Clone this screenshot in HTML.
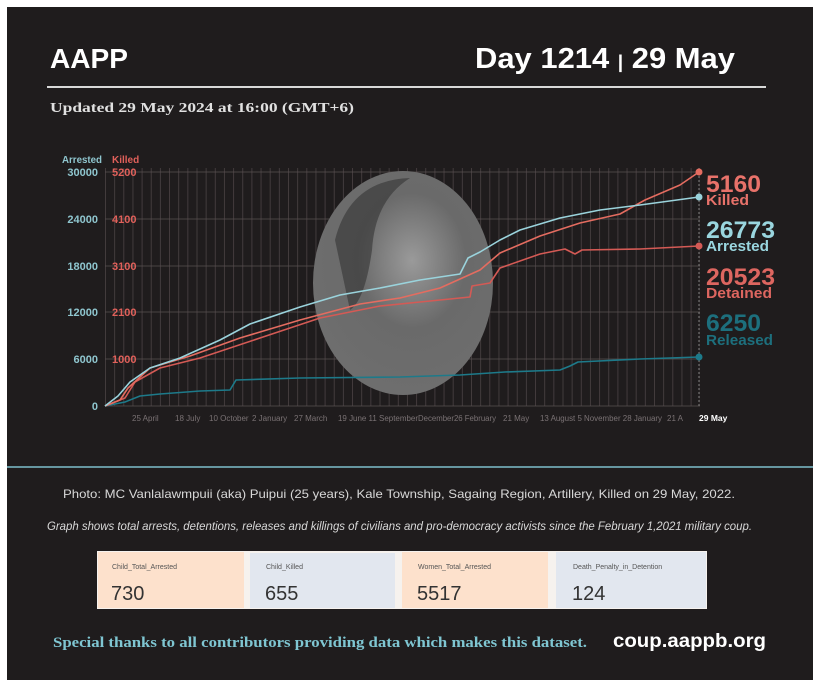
<!DOCTYPE html>
<html><head><meta charset="utf-8"><style>
html,body{margin:0;padding:0;background:#fff;}
body{width:820px;height:687px;position:relative;overflow:hidden;font-family:"Liberation Sans",sans-serif;}
.panel{position:absolute;left:7px;top:7px;width:806px;height:673px;background:#1f1c1d;}
</style></head><body>
<div class="panel"></div>
<svg width="820" height="687" style="position:absolute;left:0;top:0">
<defs>
<pattern id="vg" x="105" y="0" width="9.15" height="10" patternUnits="userSpaceOnUse">
<line x1="0.5" y1="0" x2="0.5" y2="10" stroke="#4a4244" stroke-width="0.8"/>
</pattern>
<radialGradient id="ph" cx="0.55" cy="0.4" r="0.6">
<stop offset="0" stop-color="#9a9a9a"/><stop offset="0.5" stop-color="#6a6a6a"/><stop offset="1" stop-color="#6e6e6e"/>
</radialGradient>
</defs>
<text x="50" y="68" fill="#fff" font-size="28" font-weight="bold" textLength="78" lengthAdjust="spacingAndGlyphs">AAPP</text>
<text x="475" y="68" fill="#fff" font-size="29" font-weight="bold" textLength="260" lengthAdjust="spacingAndGlyphs">Day 1214 <tspan font-size="18">|</tspan> 29 May</text>
<line x1="47" y1="87" x2="766" y2="87" stroke="#d8d8d8" stroke-width="2"/>
<text x="50" y="112" fill="#e0e0e0" font-size="13.5" font-weight="bold" font-family="Liberation Serif, serif" textLength="304" lengthAdjust="spacingAndGlyphs">Updated 29 May 2024 at 16:00 (GMT+6)</text>

<rect x="105" y="168" width="595" height="238" fill="url(#vg)"/>
<g stroke="#5a5052" stroke-width="0.8">
<line x1="105" y1="172" x2="700" y2="172"/><line x1="105" y1="219" x2="700" y2="219"/>
<line x1="105" y1="266" x2="700" y2="266"/><line x1="105" y1="312" x2="700" y2="312"/>
<line x1="105" y1="359" x2="700" y2="359"/><line x1="105" y1="406" x2="700" y2="406"/>
</g>
<line x1="699" y1="168" x2="699" y2="406" stroke="#999" stroke-dasharray="2,2" stroke-width="0.8"/>
<ellipse cx="403" cy="283" rx="90" ry="112" fill="url(#ph)"/>
<path d="M335 240 Q350 180 410 178 Q375 200 372 250 Q365 300 350 310 Z" fill="#333" opacity="0.6"/>

<g font-size="11" font-weight="bold">
<text x="62" y="163" fill="#8fc6cf" font-size="10" textLength="40" lengthAdjust="spacingAndGlyphs">Arrested</text><text x="112" y="163" fill="#e0605a" font-size="10">Killed</text>
<g fill="#8fc6cf" text-anchor="end"><text x="98" y="176">30000</text><text x="98" y="223">24000</text><text x="98" y="270">18000</text><text x="98" y="316">12000</text><text x="98" y="363">6000</text><text x="98" y="410">0</text></g>
<g fill="#e0605a"><text x="112" y="176">5200</text><text x="112" y="223">4100</text><text x="112" y="270">3100</text><text x="112" y="316">2100</text><text x="112" y="363">1000</text></g>
</g>
<g font-size="8" fill="#7a7274">
<text x="132" y="421">25 April</text><text x="175" y="421">18 July</text><text x="209" y="421">10 October</text><text x="252" y="421">2 January</text><text x="294" y="421">27 March</text><text x="338" y="421" textLength="80" lengthAdjust="spacingAndGlyphs">19 June 11 September</text><text x="418" y="421" textLength="78" lengthAdjust="spacingAndGlyphs">December26 February</text><text x="503" y="421">21 May</text><text x="540" y="421" textLength="122" lengthAdjust="spacingAndGlyphs">13 August 5 November 28 January</text><text x="667" y="421">21 A</text>
</g>
<text x="699" y="421" fill="#fff" font-size="8.5" font-weight="bold">29 May</text>

<g fill="none" stroke-width="1.6" stroke-linejoin="round">
<polyline stroke="#1d7a8a" points="105,406 125,402 140,396 160,394 200,391 230,390 236,380 300,378 400,377 460,375 505,372 560,370 570,366 578,362 640,359 699,357"/>
<polyline stroke="#d45a55" points="105,406 125,398 135,382 160,368 200,358 260,338 320,318 380,306 420,302 460,298 470,297 472,286 490,283 500,268 540,254 565,249 575,254 582,250 640,249 699,246"/>
<polyline stroke="#e46c60" points="105,406 120,400 128,388 150,368 190,356 240,338 300,320 360,304 400,298 440,288 480,270 500,253 540,236 580,223 620,214 645,200 680,185 699,172"/>
<polyline stroke="#9ad3dc" points="105,406 118,396 130,382 150,368 180,358 220,340 250,324 300,307 340,295 380,288 420,280 460,274 468,258 480,252 500,240 520,230 560,218 600,210 640,205 699,197"/>
</g>
<circle cx="699" cy="172" r="3.5" fill="#e46c60"/><circle cx="699" cy="197" r="3.5" fill="#9ad3dc"/>
<circle cx="699" cy="246" r="3.5" fill="#d45a55"/><circle cx="699" cy="357" r="3.5" fill="#1d7a8a"/>

<g font-weight="bold">
<text x="706" y="192" fill="#e8726a" font-size="24" textLength="55" lengthAdjust="spacingAndGlyphs">5160</text><text x="706" y="205" fill="#e8726a" font-size="15" textLength="43" lengthAdjust="spacingAndGlyphs">Killed</text>
<text x="706" y="238" fill="#9ad6df" font-size="24" textLength="69" lengthAdjust="spacingAndGlyphs">26773</text><text x="706" y="251" fill="#9ad6df" font-size="15" textLength="63" lengthAdjust="spacingAndGlyphs">Arrested</text>
<text x="706" y="285" fill="#dd6660" font-size="24" textLength="69" lengthAdjust="spacingAndGlyphs">20523</text><text x="706" y="298" fill="#dd6660" font-size="15" textLength="66" lengthAdjust="spacingAndGlyphs">Detained</text>
<text x="706" y="331" fill="#1d6f7d" font-size="24" textLength="55" lengthAdjust="spacingAndGlyphs">6250</text><text x="706" y="345" fill="#1d6f7d" font-size="15" textLength="67" lengthAdjust="spacingAndGlyphs">Released</text>
</g>

<line x1="7" y1="467" x2="813" y2="467" stroke="#7fbfcc" stroke-width="1.5"/>
<text x="63" y="498" fill="#d8d8d8" font-size="12" textLength="672" lengthAdjust="spacingAndGlyphs">Photo: MC Vanlalawmpuii (aka) Puipui (25 years), Kale Township, Sagaing Region, Artillery, Killed on 29 May, 2022.</text>
<text x="47" y="530" fill="#d8d8d8" font-size="12" font-style="italic" textLength="705" lengthAdjust="spacingAndGlyphs">Graph shows total arrests, detentions, releases and killings of civilians and pro-democracy activists since the February 1,2021 military coup.</text>

<rect x="97" y="551" width="610" height="58" fill="#f6f2ee"/>
<rect x="98" y="552" width="146" height="56" fill="#fde1cc"/>
<rect x="250" y="553" width="145" height="55" fill="#e2e7ef"/>
<rect x="402" y="552" width="146" height="56" fill="#fde1cc"/>
<rect x="556" y="552" width="150" height="56" fill="#e2e7ef"/>
<g fill="#555" font-size="7"><text x="112" y="569">Child_Total_Arrested</text><text x="266" y="569">Child_Killed</text><text x="418" y="569">Women_Total_Arrested</text><text x="573" y="569">Death_Penalty_in_Detention</text></g>
<g fill="#333" font-size="20"><text x="111" y="600">730</text><text x="265" y="600">655</text><text x="417" y="600">5517</text><text x="572" y="600">124</text></g>

<text x="53" y="647" fill="#7fc6d2" font-size="15" font-weight="bold" font-family="Liberation Serif, serif" textLength="534" lengthAdjust="spacingAndGlyphs">Special thanks to all contributors providing data which makes this dataset.</text>
<text x="613" y="647" fill="#fff" font-size="19" font-weight="bold" textLength="153" lengthAdjust="spacingAndGlyphs">coup.aappb.org</text>
</svg>
</body></html>
